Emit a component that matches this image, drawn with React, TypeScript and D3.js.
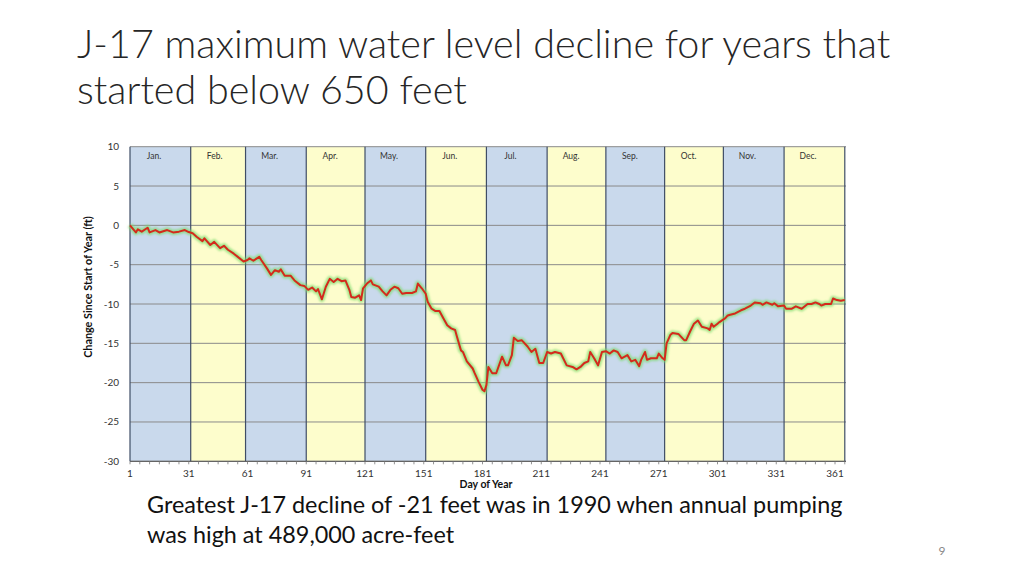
import React from 'react';
import * as d3 from 'd3';

// ---- data ----
const monthNames = ['Jan.', 'Feb.', 'Mar.', 'Apr.', 'May.', 'Jun.', 'Jul.', 'Aug.', 'Sep.', 'Oct.', 'Nov.', 'Dec.'];
const monthStarts = [1, 32, 60, 91, 121, 152, 183, 214, 244, 274, 304, 335, 366];
const xTicks = [1, 31, 61, 91, 121, 151, 181, 211, 241, 271, 301, 331, 361];
const yTicks = [10, 5, 0, -5, -10, -15, -20, -25, -30];

const days = [
  1, 4, 5, 7, 10, 11, 14, 16, 20, 23, 26, 29, 31, 33, 35, 38, 39, 42, 44, 47, 49, 51, 54, 57, 59,
  61, 62, 64, 67, 68, 71, 73, 75, 77, 78, 80, 83, 85, 88, 90, 92, 94, 96, 97, 99, 101, 103, 105, 107,
  109, 111, 113, 114, 116, 118, 119, 120, 122, 124, 125, 128, 130, 132, 134, 136, 138, 140, 142, 145,
  147, 148, 150, 152, 153, 155, 157, 159, 161, 163, 165, 167, 168, 170, 171, 173, 176, 177, 179, 181,
  182, 183, 184, 186, 188, 191, 193, 194, 196, 197, 199, 201, 204, 206, 208, 210, 212, 214, 216, 218,
  221, 224, 227, 229, 231, 233, 235, 236, 238, 240, 242, 244, 246, 248, 250, 252, 255, 257, 259, 261,
  262, 264, 265, 267, 270, 271, 273, 274, 275, 277, 278, 281, 284, 285, 287, 289, 291, 293, 296, 297,
  298, 299, 301, 302, 305, 306, 307, 310, 313, 315, 318, 320, 323, 324, 326, 329, 330, 332, 335, 336,
  339, 341, 344, 347, 349, 351, 353, 354, 356, 359, 360, 362, 364, 366,
];
const levels = [
  0, -0.9, -0.5, -0.8, -0.3, -0.9, -0.6, -0.9, -0.6, -0.9, -0.8, -0.6, -0.85, -1.0, -1.45, -2.0, -1.65,
  -2.5, -2.1, -2.9, -2.6, -3.1, -3.6, -4.2, -4.6,
  -4.4, -4.2, -4.5, -4.0, -4.4, -5.5, -6.3, -5.7, -5.9, -5.6, -6.4, -6.4, -7.0, -7.6, -7.7, -8.2, -7.9,
  -8.4, -8.1, -9.4, -7.8, -6.8, -7.2, -6.8,
  -7.1, -7.0, -8.2, -9.1, -9.2, -8.9, -9.5, -8.0, -7.4, -7.0, -7.5, -7.8, -8.4, -8.9, -8.2, -7.8, -8.0,
  -8.7, -8.6, -8.6,
  -8.4, -7.4, -8.0, -8.7, -9.7, -10.6, -10.9, -10.9, -11.8, -12.7, -13.1, -13.3, -14.2, -15.9, -16.1,
  -17.3, -18.2, -18.8, -19.9, -20.9,
  -21.1, -20.3, -18.0, -18.8, -18.8, -16.7, -17.8, -17.8, -16.5, -14.3, -14.7, -14.6, -15.4, -16.1,
  -15.7, -17.5, -17.5, -16.1, -16.3, -16.1,
  -16.3, -17.8, -18.0, -18.3, -18.0, -17.5, -17.3, -16.1, -16.9, -17.8, -16.1, -16.0, -16.3, -15.9,
  -16.1, -16.9, -16.5, -17.3, -17.1, -17.9,
  -17.1, -16.1, -17.1, -16.9, -16.9, -16.3, -16.9, -17.1, -15.0, -13.9, -13.7, -13.8, -14.6, -14.6,
  -13.5, -12.5, -12.1, -12.9, -13.1, -13.3,
  -12.5, -12.9, -12.5, -12.3, -11.8, -11.5, -11.4, -11.2, -10.8, -10.6, -10.2, -9.8, -9.9, -10.1, -9.8,
  -10.1, -9.9, -10.3, -10.2, -10.6,
  -10.6, -10.3, -10.6, -10.0, -10.0, -9.8, -10.0, -10.2, -10.0, -10.0, -9.3, -9.5, -9.6, -9.5,
];

const titleLines = ['J-17 maximum water level decline for years that', 'started below 650 feet'];
const captionLines = ['Greatest J-17 decline of -21 feet was in 1990 when annual pumping', 'was high at 489,000 acre-feet'];
const yAxisTitle = 'Change Since Start of Year (ft)';
const xAxisTitle = 'Day of Year';
const pageNumber = '9';

const W = 1024;
const H = 576;
const plot = { left: 130, right: 846, top: 146.7, bottom: 461.3 };

export default function App() {
  const x = d3.scaleLinear().domain([1, 361]).range([130, 835]);
  const y = d3.scaleLinear().domain([-30, 10]).range([plot.bottom, plot.top]);
  const pts: [number, number][] = days.map((d, i) => [d, levels[i]]);
  const line = d3
    .line<[number, number]>()
    .x((d) => x(d[0]))
    .y((d) => y(d[1]));
  const path = line(pts) || '';
  const minorTicks = d3.range(1, 367, 5);
  const font = 'Lato, "Open Sans", sans-serif';

  return (
    <svg
      width={W}
      height={H}
      viewBox={`0 0 ${W} ${H}`}
      style={{ position: 'absolute', left: 0, top: 0, background: '#fff' }}
      fontFamily={font}
    >
      <defs>
        <filter id="glow" x="-5%" y="-20%" width="110%" height="140%">
          <feGaussianBlur stdDeviation="1.1" />
        </filter>
      </defs>
      {/* title */}
      {titleLines.map((t, i) => (
        <text key={t} x={77} y={58 + i * 46} fontSize={39.5} fontWeight={300} fill="#262626">
          {t}
        </text>
      ))}
      {/* month bands */}
      {monthNames.map((m, i) => (
        <rect
          key={m}
          x={x(monthStarts[i])}
          y={plot.top}
          width={x(monthStarts[i + 1]) - x(monthStarts[i])}
          height={plot.bottom - plot.top}
          fill={i % 2 === 0 ? '#c9d9ec' : '#fdfdcc'}
        />
      ))}
      {/* gridlines */}
      {yTicks.map((t) => (
        <line key={t} x1={plot.left} x2={plot.right} y1={y(t)} y2={y(t)} stroke="#8a8a8a" strokeWidth={1} />
      ))}
      {/* band dividers */}
      {monthStarts.map((d) => (
        <line key={d} x1={x(d)} x2={x(d)} y1={plot.top} y2={plot.bottom} stroke="#3f4d66" strokeWidth={1.2} />
      ))}
      {/* month labels */}
      {monthNames.map((m, i) => (
        <text key={m} x={x(monthStarts[i]) + 24} y={159} fontSize={8.5} textAnchor="middle" fill="#333">
          {m}
        </text>
      ))}
      {/* x axis */}
      <line x1={plot.left} x2={plot.right} y1={plot.bottom} y2={plot.bottom} stroke="#555" strokeWidth={1} />
      {minorTicks.map((d) => (
        <line key={d} x1={x(d)} x2={x(d)} y1={plot.bottom} y2={plot.bottom + 3} stroke="#777" strokeWidth={0.8} />
      ))}
      {xTicks.map((t) => (
        <text key={t} x={x(t)} y={477} fontSize={10} textAnchor="middle" fill="#333">
          {t}
        </text>
      ))}
      {/* y axis */}
      {yTicks.map((t) => (
        <text key={t} x={119} y={y(t) + 3.5} fontSize={10} textAnchor="end" fill="#333">
          {t}
        </text>
      ))}
      <text
        transform={`translate(92, 287) rotate(-90)`}
        fontSize={10.8}
        fontWeight={700}
        textAnchor="middle"
        fill="#111"
      >
        {yAxisTitle}
      </text>
      <text x={486} y={488} fontSize={10.5} fontWeight={700} textAnchor="middle" fill="#111">
        {xAxisTitle}
      </text>
      {/* series */}
      <path d={path} fill="none" stroke="#7ddc6e" strokeOpacity={0.7} strokeWidth={5.5} filter="url(#glow)" strokeLinejoin="round" />
      <path d={path} fill="none" stroke="#d42a1c" strokeWidth={2} strokeLinejoin="round" />
      {/* caption */}
      {captionLines.map((t, i) => (
        <text key={t} x={147} y={513 + i * 30} fontSize={23.4} fill="#111">
          {t}
        </text>
      ))}
      <text x={942} y={555} fontSize={12} textAnchor="middle" fill="#888">
        {pageNumber}
      </text>
    </svg>
  );
}
